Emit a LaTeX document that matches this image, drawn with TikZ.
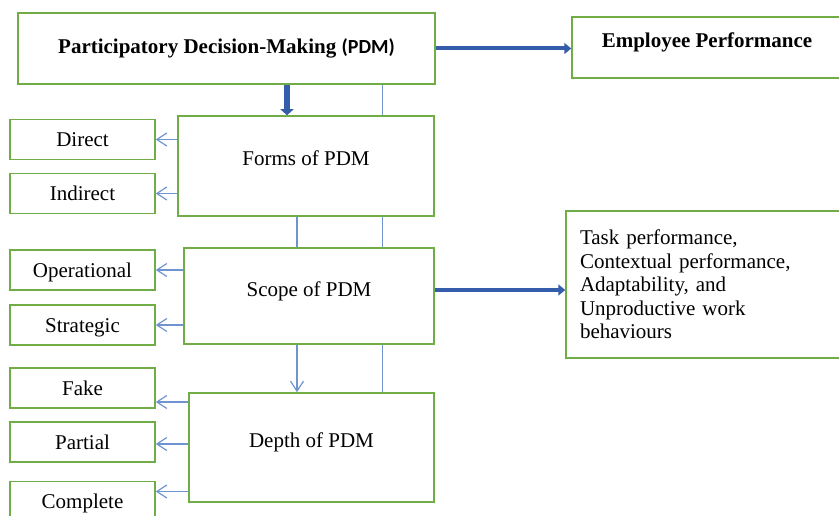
\documentclass[tikz,border=0pt]{standalone}
\usepackage{fontspec}
\setmainfont{Liberation Serif}
\newfontfamily\calibfont{Carlito}
\usetikzlibrary{arrows.meta,positioning}
\definecolor{boxgreen}{RGB}{112,173,71}
\definecolor{darkblue}{RGB}{52,94,172}
\definecolor{lightblue}{RGB}{112,148,208}

\begin{document}
\begin{tikzpicture}[x = 1pt, y = -1pt,
		green_box/.style = {rectangle, draw = boxgreen, line width = 1.5pt, fill = white, inner sep = 0pt, font = \fontsize{21}{23.5}\selectfont},
		main_box/.style = {green_box, text height = 10pt, text depth = 10pt},
		side_box/.style = {green_box, minimum width = 145pt, minimum height = 40pt, text height = 14pt, text depth = 0pt},
		thick_arrow/.style = {draw = darkblue, line width = 4pt, -{Triangle[length = 7pt, width = 11pt]}},
		thin_arrow/.style = {draw = lightblue, line width = 1.2pt, -{Straight Barb[length = 10pt, width = 13pt]}},
		thin_line/.style = {draw = lightblue, line width = 1.2pt},
		node distance = 54pt,
		]
		\useasboundingbox (0,0) rectangle (839,516);
		
		%top
		\node[main_box, minimum width = 417pt, minimum height = 71pt, text height = 14pt, text depth = 4pt](PDM) at (226.5, 48.5){\textbf{Participatory Decision-Making} {\calibfont\fontsize{20}{24}\selectfont\bfseries (PDM)}};
		\node[main_box, minimum width = 270pt, minimum height = 61pt](EP) at (707, 47.5){\textbf{Employee Performance}};
		
		%main boxes
		\node[main_box, minimum width = 256pt, minimum height = 100pt](Forms) at (306, 166){Forms of PDM};
		\node[main_box, minimum width = 250pt, minimum height = 96pt](Scope) at (309, 296){Scope of PDM};
		\node[main_box, minimum width = 245pt, minimum height = 109pt](Depth) at (311.5, 447.5){Depth of PDM};
		\node[green_box, minimum width = 279pt, minimum height = 147pt, text width = 251pt, align = left, inner xsep = 14pt](Perf) at (705.5, 284.5){Task performance,\\ Contextual performance,\\ Adaptability, and\\ Unproductive work\\ behaviours};
		
		%forms
		\node[side_box](Direct) at (82.5, 139.5){Direct};
		\node[side_box, below of = {Direct}](Indirect){Indirect};
		
		%scope
		\node[side_box](Operational) at (82.5, 270){Operational};
		\node[side_box, below of = {Operational}, yshift = -1pt](Strategic){Strategic};
		
		%depth
		\node[side_box](Fake) at (82.5, 388){Fake};
		\node[side_box, below of = {Fake}](Partial){Partial};
		\node[side_box, below of = {Partial}, yshift = -5.5pt](Complete){Complete};
		
		%thick arrows
		\draw[thick_arrow](PDM.east) -- (PDM.east -| EP.west);
		\draw[thick_arrow]([yshift = 6pt]Scope.east) -- ([yshift = 6pt]Scope.east -| Perf.west);
		\draw[thick_arrow, line width = 5.5pt, -{Triangle[length = 6pt, width = 13pt]}]([xshift = -19pt]Forms.north |- PDM.south) -- ([xshift = -19pt]Forms.north);
		
		%thin arrows
		\draw[thin_arrow](Forms.west |- Direct.east) -- (Direct.east);
		\draw[thin_arrow](Forms.west |- Indirect.east) -- (Indirect.east);
		\draw[thin_arrow](Scope.west |- Operational.east) -- (Operational.east);
		\draw[thin_arrow](Scope.west |- Strategic.east) -- (Strategic.east);
		\draw[thin_arrow]([yshift = -14pt]Depth.west |- Fake.east) -- ([yshift = -14pt]Fake.east);
		\draw[thin_arrow]([yshift = -2pt]Depth.west |- Partial.east) -- ([yshift = -2pt]Partial.east);
		\draw[thin_arrow]([yshift = 10pt]Depth.west |- Complete.east) -- ([yshift = 10pt]Complete.east);
		
		%vertical links
		\draw[thin_line]([xshift = -52pt]Forms.north east |- PDM.south) -- ([xshift = -52pt]Forms.north east);
		\draw[thin_line]([xshift = -52pt]Forms.south east) -- ([xshift = -52pt]Forms.south east |- Scope.north);
		\draw[thin_line]([xshift = -52pt]Forms.south east |- Scope.south) -- ([xshift = -52pt]Forms.south east |- Depth.north);
		\draw[thin_line]([xshift = -9pt]Forms.south) -- ([xshift = -9pt]Forms.south |- Scope.north);
		\draw[thin_arrow]([xshift = -9pt]Forms.south |- Scope.south) -- ([xshift = -9pt]Forms.south |- Depth.north);

\end{tikzpicture}
\end{document}
